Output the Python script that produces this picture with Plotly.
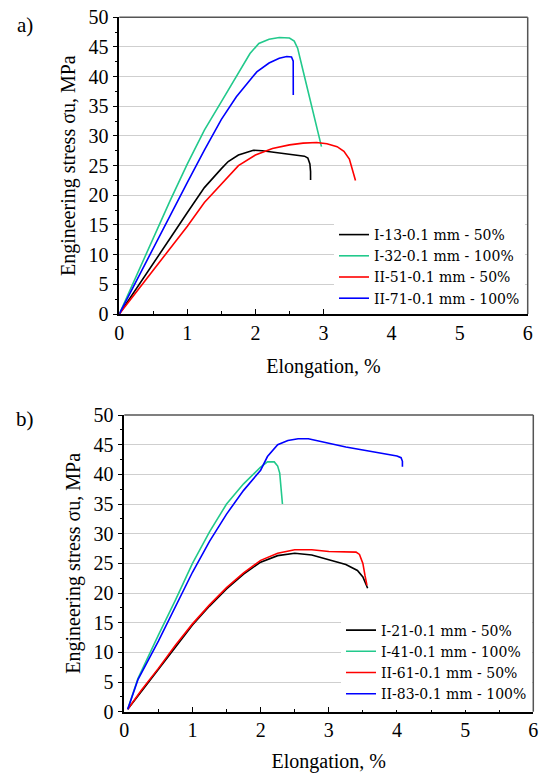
import plotly.graph_objects as go

# ---------------- Panel a) data ----------------
a_I13_x = [0, 0.25, 0.5, 0.75, 1.0, 1.25, 1.5, 1.6, 1.75, 1.97, 2.1, 2.3, 2.5, 2.72, 2.77, 2.8, 2.81, 2.81]
a_I13_y = [0, 4.2, 8.6, 12.8, 17.1, 21.3, 24.5, 25.7, 26.8, 27.6, 27.5, 27.2, 26.9, 26.6, 26.3, 25.3, 24.0, 22.6]

a_I32_x = [0, 0.25, 0.5, 0.75, 1.0, 1.25, 1.5, 1.75, 1.92, 2.05, 2.2, 2.35, 2.5, 2.57, 2.62, 2.7, 2.8, 2.9, 2.97]
a_I32_y = [0, 6.5, 12.9, 19.2, 25.3, 31.0, 35.8, 40.6, 43.9, 45.6, 46.3, 46.6, 46.5, 46.0, 44.8, 41.0, 36.3, 31.6, 28.2]

a_II51_x = [0, 0.25, 0.5, 0.75, 1.0, 1.25, 1.5, 1.75, 2.0, 2.25, 2.5, 2.7, 2.9, 3.05, 3.2, 3.3, 3.38, 3.43, 3.47]
a_II51_y = [0, 3.7, 7.4, 11.1, 14.8, 18.8, 21.9, 25.0, 26.8, 27.9, 28.5, 28.8, 28.9, 28.7, 28.2, 27.4, 26.1, 24.3, 22.5]

a_II71_x = [0, 0.25, 0.5, 0.75, 1.0, 1.25, 1.5, 1.72, 2.02, 2.2, 2.35, 2.46, 2.53, 2.555, 2.556, 2.556]
a_II71_y = [0, 5.6, 11.2, 16.8, 22.2, 27.6, 32.8, 36.6, 40.8, 42.3, 43.1, 43.4, 43.3, 42.6, 40.0, 36.9]

# ---------------- Panel b) data ----------------
b_I21_x = [0.05, 0.25, 0.5, 0.75, 1.0, 1.25, 1.5, 1.75, 2.0, 2.25, 2.5, 2.75, 3.0, 3.25, 3.42, 3.5, 3.57]
b_I21_y = [0.4, 3.4, 7.1, 11.0, 14.6, 17.8, 20.7, 23.2, 25.2, 26.3, 26.7, 26.4, 25.6, 24.8, 23.8, 22.7, 20.8]

b_I41_x = [0.05, 0.2, 0.5, 0.75, 1.0, 1.25, 1.5, 1.75, 2.0, 2.1, 2.2, 2.25, 2.28, 2.3, 2.31, 2.32]
b_I41_y = [0.4, 5.6, 12.9, 18.8, 25.0, 30.3, 35.0, 38.4, 41.2, 42.1, 42.1, 41.4, 40.2, 38.0, 36.3, 35.0]

b_II61_x = [0.05, 0.25, 0.5, 0.75, 1.0, 1.25, 1.5, 1.75, 2.0, 2.25, 2.5, 2.75, 3.0, 3.2, 3.4, 3.45, 3.5, 3.53, 3.56]
b_II61_y = [0.4, 3.6, 7.3, 11.2, 14.8, 18.0, 20.9, 23.4, 25.5, 26.7, 27.3, 27.3, 27.0, 26.9, 26.9, 26.5, 25.0, 23.0, 21.3]

b_II83_x = [0.05, 0.2, 0.5, 0.75, 1.0, 1.25, 1.5, 1.75, 2.0, 2.1, 2.25, 2.4, 2.55, 2.7, 3.0, 3.25, 3.5, 3.75, 4.0, 4.06, 4.08, 4.08]
b_II83_y = [0.4, 5.4, 11.9, 17.8, 23.5, 28.7, 33.3, 37.3, 40.7, 43.0, 45.0, 45.7, 46.0, 46.0, 45.2, 44.6, 44.1, 43.6, 43.1, 42.8, 42.2, 41.3]

labels_a = ["I-13-0.1 mm - 50%", "I-32-0.1 mm - 100%", "II-51-0.1 mm - 50%", "II-71-0.1 mm - 100%"]
labels_b = ["I-21-0.1 mm - 50%", "I-41-0.1 mm - 100%", "II-61-0.1 mm - 50%", "II-83-0.1 mm - 100%"]
colors = ["#000000", "#22c98c", "#ff0000", "#0000ff"]

x_ticks = [0, 1, 2, 3, 4, 5, 6]
y_ticks = [0, 5, 10, 15, 20, 25, 30, 35, 40, 45, 50]

FONT = "Liberation Serif"
LEG_FONT = "DejaVu Serif"
W, H = 539, 773


def px(xp):  # page x pixel -> paper fraction
    return xp / W


def py(yp):  # page y pixel (from top) -> paper fraction
    return 1 - yp / H


fig = go.Figure()

series_a = [(a_I13_x, a_I13_y), (a_I32_x, a_I32_y), (a_II51_x, a_II51_y), (a_II71_x, a_II71_y)]
series_b = [(b_I21_x, b_I21_y), (b_I41_x, b_I41_y), (b_II61_x, b_II61_y), (b_II83_x, b_II83_y)]

for (xs, ys), lab, col in zip(series_a, labels_a, colors):
    fig.add_trace(go.Scatter(x=xs, y=ys, mode="lines", name=lab,
                             line=dict(color=col, width=1.6),
                             xaxis="x", yaxis="y", legend="legend"))
for (xs, ys), lab, col in zip(series_b, labels_b, colors):
    fig.add_trace(go.Scatter(x=xs, y=ys, mode="lines", name=lab,
                             line=dict(color=col, width=1.6),
                             xaxis="x2", yaxis="y2", legend="legend2"))


def xax(domain, anchor):
    return dict(domain=domain, anchor=anchor, range=[0, 6], tickvals=x_ticks,
                automargin=False, ticklabeloverflow="allow",
                showline=True, linecolor="black", linewidth=1.5,
                ticks="inside", ticklen=5, tickcolor="black", tickwidth=1,
                minor=dict(dtick=0.5, ticks="inside", ticklen=3, tickcolor="black", showgrid=False),
                showgrid=False, zeroline=False,
                tickfont=dict(family=FONT, size=20, color="black"),
                title=dict(text="Elongation, %", font=dict(family=FONT, size=20, color="black"), standoff=16))


def yax(domain, anchor):
    return dict(domain=domain, anchor=anchor, range=[0, 50], tickvals=y_ticks,
                automargin=False, ticklabeloverflow="allow",
                showline=True, linecolor="black", linewidth=1.5,
                ticks="outside", ticklen=5, tickcolor="black", tickwidth=1,
                minor=dict(dtick=2.5, ticks="outside", ticklen=3, tickcolor="black", showgrid=False),
                showgrid=True, gridcolor="#cfcfcf", gridwidth=1, zeroline=False,
                tickfont=dict(family=FONT, size=20, color="black"),
                title=dict(text="Engineering stress σu, MPa", font=dict(family=FONT, size=20, color="black"), standoff=8))


xa_dom = [px(119.3), px(527.7)]
ya_dom = [py(314), py(17.3)]
xb_dom = [px(124.3), px(533.3)]
yb_dom = [py(711.7), py(415)]

legend_style = dict(bgcolor="white", borderwidth=0, xanchor="left", yanchor="top",
                    font=dict(family=LEG_FONT, size=14, color="black"), tracegroupgap=0)

fig.update_layout(
    width=W, height=H, autosize=False,
    margin=dict(l=0, r=0, t=0, b=0, autoexpand=False),
    paper_bgcolor="white", plot_bgcolor="white",
    font=dict(family=FONT, color="black"),
    xaxis=xax(xa_dom, "y"), yaxis=yax(ya_dom, "x"),
    xaxis2=xax(xb_dom, "y2"), yaxis2=yax(yb_dom, "x2"),
    legend=dict(x=px(334), y=py(219), **legend_style),
    legend2=dict(x=px(341), y=py(614.5), **legend_style),
    showlegend=True,
)

# top / right frame lines (grey)
for xr, yr in [("x domain", "y domain"), ("x2 domain", "y2 domain")]:
    fig.add_shape(type="line", xref=xr, yref=yr, x0=0, x1=1, y0=1, y1=1,
                  line=dict(color="#555555", width=1.5), layer="above")
    fig.add_shape(type="line", xref=xr, yref=yr, x0=1, x1=1, y0=0, y1=1,
                  line=dict(color="#555555", width=1.5), layer="above")

fig.add_annotation(text="a)", xref="paper", yref="paper", x=px(24.5), y=py(24.6),
                   showarrow=False, xanchor="center", yanchor="middle",
                   font=dict(family=FONT, size=21, color="black"))
fig.add_annotation(text="b)", xref="paper", yref="paper", x=px(24.5), y=py(419.3),
                   showarrow=False, xanchor="center", yanchor="middle",
                   font=dict(family=FONT, size=21, color="black"))

# remove the default 8px page margin so the 539x773 figure fills the window exactly
fig.write_html("out.html",
               config={"displayModeBar": False},
               post_script="document.body.style.margin='0px';document.body.style.overflow='hidden';")
